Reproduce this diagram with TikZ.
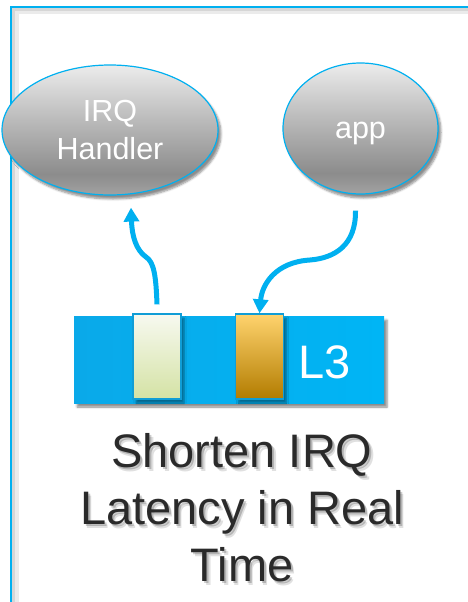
\documentclass[tikz,border=0pt]{standalone}
\usepackage{fontspec}
\setmainfont{Liberation Sans}
\usetikzlibrary{shapes.geometric,arrows.meta,shadows.blur}

\definecolor{skyblue}{HTML}{00B0F0}
\definecolor{barleft}{HTML}{0AA9E9}
\definecolor{barright}{HTML}{00B5F5}
\definecolor{slotedge}{HTML}{109DD6}
\definecolor{og1}{HTML}{ECECEC}
\definecolor{og2}{HTML}{BDBDBD}
\definecolor{og3}{HTML}{8C8C8C}
\definecolor{og4}{HTML}{A2A2A2}
\definecolor{paletop}{HTML}{F7F9F0}
\definecolor{palebot}{HTML}{D4E2A4}
\definecolor{ambtop}{HTML}{FFD36E}
\definecolor{ambmid}{HTML}{FFBA1F}
\definecolor{ambbot}{HTML}{B27C00}
\definecolor{inkgray}{HTML}{2A2A2A}

% grey orb shading: light at the top, darkest near the bottom
\pgfdeclareverticalshading{orbgray}{100bp}{%
  color(0bp)=(og4); color(25bp)=(og4); color(33bp)=(og3);
  color(55bp)=(og2); color(75bp)=(og1); color(100bp)=(og1)}

\tikzset{
  orb/.style={ellipse, draw=skyblue, line width=1.2pt, shading=orbgray,
    text=white, align=center, inner sep=0pt,
    font=\fontsize{30.5}{38}\selectfont,
    blur shadow={shadow xshift=3pt, shadow yshift=-4pt,
      shadow blur steps=6, shadow opacity=45}},
  cachebar/.style={rectangle, inner sep=0pt, left color=barleft,
    right color=barright, minimum width=310pt, minimum height=87pt,
    blur shadow={shadow xshift=3pt, shadow yshift=-4pt,
      shadow blur steps=5, shadow opacity=45}},
  slot/.style={rectangle, inner sep=0pt, draw=slotedge, line width=1.3pt,
    minimum width=48pt, minimum height=85pt,
    blur shadow={shadow xshift=3pt, shadow yshift=-4pt,
      shadow blur steps=5, shadow opacity=40}},
  flow/.style={draw=skyblue, line width=5pt,
    -{Triangle[width=15pt,length=14pt]}},
  headline/.style={align=center, inner sep=0pt,
    font=\fontsize{47}{57}\selectfont},
}

\begin{document}
\begin{tikzpicture}[x=1pt,y=-1pt]
  \useasboundingbox (0,0) rectangle (468,602);

  % outer frame with its soft inner shadow
  \draw[line width=5pt, black!8] (16,602) -- (16,12) -- (468,12);
  \draw[line width=2.5pt, black!16] (13.5,602) -- (13.5,9.5) -- (468,9.5);
  \draw[line width=1.8pt, skyblue] (11,602) -- (11,7) -- (468,7);

  % processes
  \node[orb, minimum width=216pt, minimum height=130pt] (irq)
    at (110,130) {IRQ\\Handler};
  \node[orb, minimum width=155pt, minimum height=131pt,
    text height=20pt, text depth=0pt] (app) at (360.5,128.5) {app};

  % shared L3 cache with two lines
  \node[cachebar] (l3bar) at (229,359.5) {};
  \node[slot, top color=paletop, bottom color=palebot] (hot)
    at (157,356.5) {};
  \node[slot, top color=ambtop, middle color=ambmid, bottom color=ambbot]
    (warm) at (259.5,356.5) {};
  \node[text=white, inner sep=0pt, font=\fontsize{47}{47}\selectfont]
    (l3) at (325,362) {L3};

  % data flow
  \draw[flow] ([yshift=9pt]hot.north)
    .. controls (156,276) and (154,262) .. (146,257)
    .. controls (136,250) and (132,236) .. ([xshift=21pt,yshift=-12pt]irq.south);
  \draw[flow] ([xshift=-5pt,yshift=-16pt]app.south)
    .. controls (356,245) and (335,258) .. (310,260)
    .. controls (276,262) and (262,284) .. (warm.north);

  % caption with a soft, two-layer drop shadow
  \node[headline, anchor=north, text=black, opacity=0.12] (capshadeB)
    at (245.5,437) {Shorten IRQ\\Latency in Real\\Time};
  \node[headline, anchor=north, text=black, opacity=0.2] (capshadeA)
    at (244,435) {Shorten IRQ\\Latency in Real\\Time};
  \node[headline, anchor=north, text=inkgray] (caption)
    at (242,433) {Shorten IRQ\\Latency in Real\\Time};
\end{tikzpicture}
\end{document}
